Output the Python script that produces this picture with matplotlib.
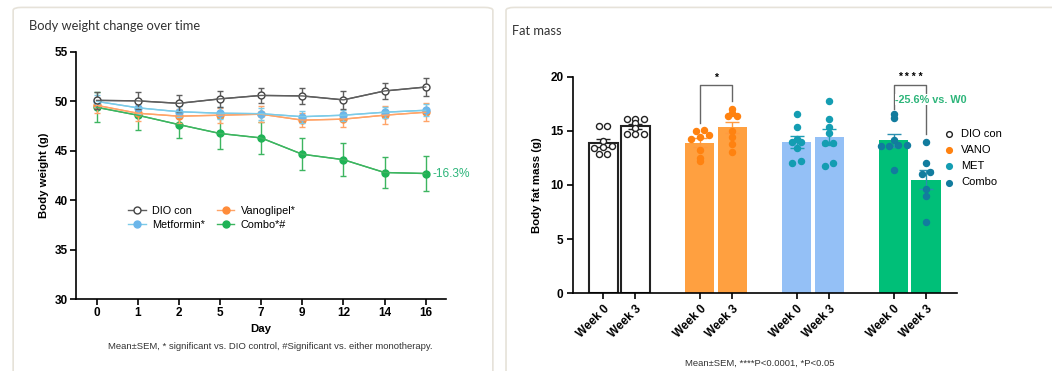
import numpy as np
import matplotlib
matplotlib.use('Agg')
import matplotlib.pyplot as plt
from matplotlib.patches import FancyBboxPatch

plt.rcParams['font.family'] = ['Liberation Sans', 'DejaVu Sans']

# ---------------- Body weight data ----------------
days = ['0', '1', '2', '5', '7', '9', '12', '14', '16']
dio_mean = [50.1, 50.05, 49.8, 50.25, 50.6, 50.55, 50.15, 51.05, 51.45]
dio_sem = [0.85, 0.85, 0.85, 0.8, 0.8, 0.85, 0.9, 0.8, 0.9]
met_mean = [50.0, 49.35, 48.95, 48.8, 48.75, 48.45, 48.6, 48.9, 49.1]
met_sem = [0.6, 0.6, 0.55, 0.6, 0.6, 0.6, 0.55, 0.55, 0.6]
vano_mean = [49.6, 48.8, 48.5, 48.6, 48.7, 48.1, 48.2, 48.6, 48.9]
vano_sem = [0.75, 0.75, 0.7, 0.75, 0.8, 0.7, 0.75, 0.9, 0.9]
combo_mean = [49.4, 48.6, 47.65, 46.75, 46.3, 44.65, 44.1, 42.8, 42.7]
combo_sem = [1.5, 1.5, 1.35, 1.55, 1.6, 1.6, 1.7, 1.6, 1.8]

# ---------------- Fat mass data ----------------
fat_labels = ['Week 0', 'Week 3'] * 4
dio_w0 = [15.5, 15.5, 14.1, 13.6, 13.5, 13.4, 12.9, 12.9]
dio_w3 = [16.1, 16.1, 16.1, 15.7, 15.3, 14.7, 14.7, 14.7]
vano_w0 = [15.0, 15.1, 14.6, 14.4, 14.3, 13.2, 12.5, 12.2]
vano_w3 = [17.0, 16.7, 16.4, 16.4, 15.0, 14.4, 13.8, 13.1]
met_w0 = [16.6, 15.4, 14.3, 14.0, 14.0, 13.4, 12.2, 12.0]
met_w3 = [17.8, 16.1, 15.4, 14.8, 13.9, 13.9, 12.0, 11.8]
combo_w0 = [16.6, 16.2, 14.2, 13.7, 13.7, 13.6, 13.6, 11.4]
combo_w3 = [14.0, 12.0, 11.2, 11.0, 9.6, 9.0, 6.6]
fat_groups = [dio_w0, dio_w3, vano_w0, vano_w3, met_w0, met_w3, combo_w0, combo_w3]
fat_names = ['DIO con', 'VANO', 'MET', 'Combo']


def swarm(vals, step=0.27, tol=0.25):
    # simple horizontal spread for points with close values
    order = np.argsort(vals)
    v = np.asarray(vals)[order]
    offs = np.zeros(len(v))
    start = 0
    for i in range(1, len(v) + 1):
        if i == len(v) or v[i] - v[i - 1] > tol:
            n = i - start
            offs[start:i] = (np.arange(n) - (n - 1) / 2) * step
            start = i
    out = np.zeros(len(v))
    out[order] = offs
    return out


fig = plt.figure(figsize=(10.52, 3.71), dpi=100)

# panel frames
for x0, w in [(0.0125, 0.456), (0.481, 0.53)]:
    fig.patches.append(FancyBboxPatch((x0, -0.05), w, 1.03, boxstyle='round,pad=0,rounding_size=0.008',
                                      transform=fig.transFigure, fc='none', ec='#E6E2D9', lw=1.2, zorder=-1))

# ---------------- Left: body weight ----------------
ax = fig.add_axes([0.0722, 0.194, 0.352, 0.666])
ax.patch.set_alpha(0)
x = np.arange(len(days))
series = [
    ('Combo*#', combo_mean, combo_sem, '#3DB560', '#1FB356', '#1FB356'),
    ('Vanoglipel*', vano_mean, vano_sem, '#FFA468', '#FF8C3A', '#FF8C3A'),
    ('Metformin*', met_mean, met_sem, '#7CCBE8', '#6BB6EA', '#6BB6EA'),
    ('DIO con', dio_mean, dio_sem, '#5E5E5E', 'white', '#444444'),
]
handles = {}
for name, m, s, lc, fc, ec in series:
    ax.errorbar(x, m, yerr=s, color=lc, ecolor=lc, elinewidth=1.0, capsize=2.5, capthick=1.0, lw=1.0)
    h, = ax.plot(x, m, color=lc, lw=1.0, marker='o', ms=5, mfc=fc, mec=ec, mew=1.0)
    handles[name] = h

ax.set_xlim(-0.5, 8.5)
ax.set_ylim(30, 55)
ax.set_yticks(np.arange(30, 56, 5))
ax.set_xticks(x)
ax.set_xticklabels(days)
for sp in ['top', 'right']:
    ax.spines[sp].set_visible(False)
for sp in ['left', 'bottom']:
    ax.spines[sp].set_linewidth(1.2)
ax.tick_params(width=1.2, length=4, labelsize=8.5, pad=2)
for t in ax.get_xticklabels() + ax.get_yticklabels():
    t.set_fontweight('bold')
ax.set_ylabel('Body weight (g)', fontsize=8.2, fontweight='bold', labelpad=4)
ax.set_xlabel('Day', fontsize=8.2, fontweight='bold', labelpad=3)
ax.annotate('-16.3%', (x[-1], combo_mean[-1]), xytext=(5, 0), textcoords='offset points',
            color='#2DB57A', fontsize=8.6, va='center', ha='left')
order = ['DIO con', 'Metformin*', 'Vanoglipel*', 'Combo*#']
ax.legend([handles[k] for k in order], order, ncol=2, frameon=False, fontsize=7.8,
          loc='upper left', bbox_to_anchor=(0.115, 0.415), handlelength=1.6, columnspacing=1.1,
          handletextpad=0.6, labelspacing=0.35)

fig.text(0.028, 0.92, 'Body weight change over time', fontsize=9.3, family='Lato', color='#333333')
fig.text(0.257, 0.058, 'Mean±SEM, * significant vs. DIO control, #Significant vs. either monotherapy.',
         fontsize=6.8, ha='center', color='#333333')

# ---------------- Right: fat mass ----------------
ax2 = fig.add_axes([0.5447, 0.2102, 0.365, 0.5823])
ax2.patch.set_alpha(0)
pos = np.array([0, 1, 3, 4, 6, 7, 9, 10])
bar_fc = ['white', 'white', '#FFA040', '#FFA040', '#94C0F6', '#94C0F6', '#00BF78', '#00BF78']
bar_ec = ['#222222', '#222222', 'none', 'none', 'none', 'none', 'none', 'none']
pt_fc = ['white', 'white', '#FF8210', '#FF8210', '#149DB2', '#149DB2', '#127C9E', '#127C9E']
pt_ec = ['#222222', '#222222', '#FF8210', '#FF8210', '#149DB2', '#149DB2', '#127C9E', '#127C9E']
err_c = ['#222222', '#222222', '#FF9A40', '#FF9A40', '#1E9DB5', '#1E9DB5', '#2A8FB0', '#2A8FB0']
for i, vals in enumerate(fat_groups):
    mean = np.mean(vals)
    sem = np.std(vals, ddof=1) / np.sqrt(len(vals))
    ax2.bar(pos[i], mean, width=0.9, color=bar_fc[i], edgecolor=bar_ec[i], lw=1.5, zorder=2)
    ax2.errorbar(pos[i], mean, yerr=sem, color=err_c[i], capsize=5, elinewidth=1.0, capthick=1.0, zorder=3)
    ax2.scatter(pos[i] + swarm(vals), vals, s=19, facecolor=pt_fc[i], edgecolor=pt_ec[i], lw=1.0, zorder=4)

for i, name in enumerate(fat_names):
    ax2.scatter([], [], s=17, facecolor=pt_fc[2 * i], edgecolor=pt_ec[2 * i], lw=1.0, label=name)
ax2.legend(frameon=False, fontsize=8, loc='upper left', bbox_to_anchor=(0.935, 0.805),
           handletextpad=0.5, labelspacing=0.55, handlelength=1.2)

# significance brackets
for a, b, ya, yb, lab in [(2, 3, 15.7, 17.75, '*'), (6, 7, 17.0, 14.7, '* * * *')]:
    ax2.plot([pos[a], pos[a], pos[b], pos[b]], [ya, 19.3, 19.3, yb], color='#666666', lw=1.0, zorder=1)
    ax2.text((pos[a] + pos[b]) / 2, 19.5, lab, ha='center', va='bottom', fontsize=7.5, fontweight='bold')
ax2.text(pos[6] + 0.05, 17.9, '-25.6% vs. W0', color='#2DB57A', fontsize=7.8, fontweight='bold',
         va='center', ha='left', bbox=dict(fc='white', ec='none', pad=0.3), zorder=5)

ax2.set_xlim(-0.93, 10.96)
ax2.set_ylim(0, 20)
ax2.set_yticks(np.arange(0, 21, 5))
ax2.set_xticks(pos)
ax2.set_xticklabels(fat_labels, rotation=45, ha='right', rotation_mode='anchor')
for sp in ['top', 'right']:
    ax2.spines[sp].set_visible(False)
for sp in ['left', 'bottom']:
    ax2.spines[sp].set_linewidth(1.2)
ax2.tick_params(width=1.2, length=4, labelsize=8.5, pad=3)
for t in ax2.get_xticklabels() + ax2.get_yticklabels():
    t.set_fontweight('bold')
ax2.set_ylabel('Body fat mass (g)', fontsize=8.2, fontweight='bold', labelpad=6)

fig.text(0.487, 0.905, 'Fat mass', fontsize=9.3, family='Lato', color='#333333')
fig.text(0.722, 0.014, 'Mean±SEM, ****P<0.0001, *P<0.05', fontsize=6.8, ha='center', color='#333333')

fig.savefig('out.png', dpi=100)
